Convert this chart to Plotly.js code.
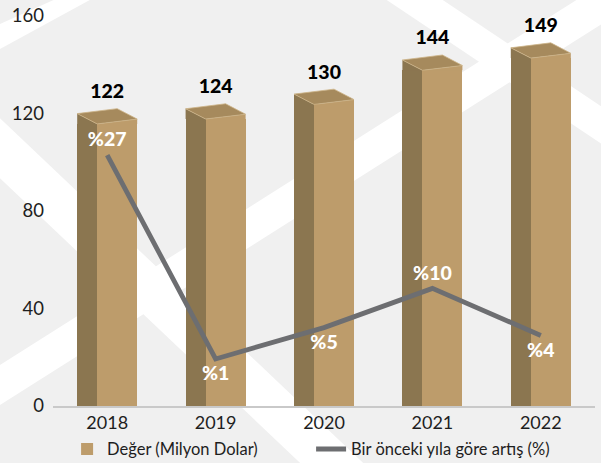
<!DOCTYPE html>
<html>
<head>
<meta charset="utf-8">
<script src="https://cdn.plot.ly/plotly-3.0.1.min.js"></script>
<style>html,body{margin:0;padding:0;background:#F0F0F0;}#chart{width:601px;height:463px;}</style>
</head>
<body>
<div id="chart"></div>
<script>
// ---- data ----
const years = ['2018', '2019', '2020', '2021', '2022'];
const values = [122, 124, 130, 144, 149];          // Değer (Milyon Dolar)
const growth = [27, 1, 5, 10, 4];                  // Bir önceki yıla göre artış (%)
const yTicks = [0, 40, 80, 120, 160];
const valueName = 'Değer (Milyon Dolar)';
const growthName = 'Bir önceki yıla göre artış (%)';

// ---- geometry (styles) ----
const W = 601, H = 463;
const M = {l: 53, r: 6, t: 15.6, b: 57, autoexpand: false};
const plotW = W - M.l - M.r, plotH = H - M.t - M.b;
const yRange = [0, 160];
const y2Range = [-5, 44.75];
const pxPerY = plotH / (yRange[1] - yRange[0]);
const pxPerX = plotW / 5;
const ux = px => px / pxPerX;     // px -> x units
const uy = px => px / pxPerY;     // px -> y units
const pxPerY2 = plotH / (y2Range[1] - y2Range[0]);

const idx = years.map((_, i) => i);
const sideL = ux(-30), sideR = ux(-10), frontR = ux(30), backX = ux(10);
const offA = uy(5), offC = uy(10.5), offD = uy(15.3);

const C_FRONT = '#BD9C6B', C_SIDE = '#8B7650', C_TOP = '#A68A5D';

// caps / top faces built from data values
const sideCapX = [], sideCapY = [], frontCapX = [], frontCapY = [], topX = [], topY = [];
idx.forEach((c, i) => {
  const v = values[i];
  sideCapX.push(c + sideL, c + sideL, c + sideR, null);
  sideCapY.push(v - offD, v - offA, v - offD, null);
  frontCapX.push(c + sideR, c + frontR, c + frontR, null);
  frontCapY.push(v - offD, v - offC, v - offD, null);
  topX.push(c + sideL, c + backX, c + frontR, c + sideR, c + sideL, null);
  topY.push(v - offA, v, v - offC, v - offD, v - offA, null);
});

// percentage label placement: above at local maxima, else below
const pctY = growth.map((g, i) => {
  const nb = [];
  if (i > 0) nb.push(growth[i - 1]);
  if (i < growth.length - 1) nb.push(growth[i + 1]);
  const above = nb.every(n => g > n);
  return above ? g + 13.7 / pxPerY2 : g - 16.2 / pxPerY2;
});

const font = 'Lato, "Open Sans", sans-serif';

const traces = [
  {type: 'bar', x: idx, y: values.map(v => v - offD), offset: sideL, width: sideR - sideL,
   marker: {color: C_SIDE, line: {width: 0}}, showlegend: false, hoverinfo: 'skip'},
  {type: 'bar', x: idx, y: values.map(v => v - offD), offset: sideR, width: frontR - sideR,
   marker: {color: C_FRONT, line: {width: 0}}, name: valueName, hoverinfo: 'skip'},
  {type: 'scatter', mode: 'lines', x: sideCapX, y: sideCapY, fill: 'toself', fillcolor: C_SIDE,
   line: {width: 0, color: C_SIDE}, showlegend: false, hoverinfo: 'skip'},
  {type: 'scatter', mode: 'lines', x: frontCapX, y: frontCapY, fill: 'toself', fillcolor: C_FRONT,
   line: {width: 0, color: C_FRONT}, showlegend: false, hoverinfo: 'skip'},
  {type: 'scatter', mode: 'lines', x: topX, y: topY, fill: 'toself', fillcolor: C_TOP,
   line: {width: 0.8, color: '#CDB488'}, showlegend: false, hoverinfo: 'skip'},
  {type: 'scatter', mode: 'lines', x: idx, y: growth, yaxis: 'y2', name: growthName,
   line: {color: '#6D6E71', width: 4.8}, hoverinfo: 'skip'},
  {type: 'scatter', mode: 'text', x: idx, y: values.map(v => v + uy(15.5)),
   text: values.map(String), textposition: 'middle center', cliponaxis: false,
   textfont: {family: font, size: 19.5, color: '#000000', weight: 900}, showlegend: false, hoverinfo: 'skip'},
  {type: 'scatter', mode: 'text', x: idx, y: pctY, yaxis: 'y2',
   text: growth.map(g => '%' + g), textposition: 'middle center', cliponaxis: false,
   textfont: {family: font, size: 19.5, color: '#FFFFFF', weight: 900}, showlegend: false, hoverinfo: 'skip'}
];

// decorative white bands (pixel coords -> paper)
const P = (px, py) => ((px - M.l) / plotW).toFixed(4) + ',' + ((H - M.b - py) / plotH).toFixed(4);
const poly = pts => 'M' + pts.map(p => P(p[0], p[1])).join('L') + 'Z';
const bands = [
  [[-10, 28], [66, -6], [100, -6], [-10, 54]],
  [[-20, 99], [381, 480], [318, 480], [-20, 159]],
  [[-20, 377.7], [620, -28], [680, -26], [-20, 417.7]],
  [[365, -15], [421, -15], [640, 132], [640, 169.5]]
];
const shapes = bands.map(b => ({type: 'path', xref: 'paper', yref: 'paper', path: poly(b),
  fillcolor: '#FFFFFF', line: {width: 0}, layer: 'below'}));

const layout = {
  width: W, height: H, margin: M,
  paper_bgcolor: '#F0F0F0', plot_bgcolor: 'rgba(0,0,0,0)',
  barmode: 'overlay', bargap: 0,
  font: {family: font, color: '#1E1E1E'},
  xaxis: {range: [-0.5, 4.5], tickmode: 'array', tickvals: idx, ticktext: years,
    showgrid: false, zeroline: false, showline: true, linecolor: '#C9C9C9', linewidth: 1.5,
    ticks: '', tickfont: {family: font, size: 18, color: '#1E1E1E'}, fixedrange: true},
  yaxis: {range: yRange, tickmode: 'array', tickvals: yTicks, showgrid: false, zeroline: false,
    showline: false, ticks: '', ticklabelstandoff: 8,
    tickfont: {family: font, size: 18.5, color: '#1E1E1E'}, fixedrange: true},
  yaxis2: {range: y2Range, overlaying: 'y', visible: false, fixedrange: true},
  showlegend: true,
  legend: {orientation: 'h', x: 0.026, xanchor: 'left', y: -0.111, yanchor: 'middle',
    font: {family: font, size: 16.5, color: '#1E1E1E'}, bgcolor: 'rgba(0,0,0,0)',
    entrywidth: 199, entrywidthmode: 'pixels', traceorder: 'normal'},
  shapes: shapes
};

Plotly.newPlot('chart', traces, layout, {displayModeBar: false, staticPlot: true});
</script>
</body>
</html>
